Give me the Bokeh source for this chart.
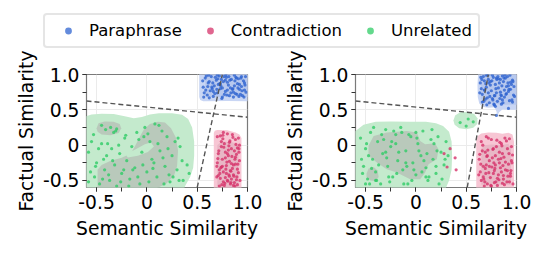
from bokeh.plotting import figure
from bokeh.models import Legend, LegendItem, FixedTicker, CustomJSTickFormatter
from bokeh.layouts import column, row
from bokeh.embed import file_html
from bokeh.resources import INLINE

# ---------------- data ----------------
classes = ["Paraphrase", "Contradiction", "Unrelated"]
class_colors = ["#2f64d0", "#d6336a", "#2fcc66"]
x_ticks = [-0.5, 0.0, 0.5, 1.0]
y_ticks = [-0.5, 0.0, 0.5, 1.0]
minor_ticks = [-0.5, -0.25, 0.0, 0.25, 0.5, 0.75, 1.0]
x_label = "Semantic Similarity"
y_label = "Factual Similarity"

# panel 1 points
para1_x = [0.56,0.58,0.60,0.61,0.63,0.64,0.66,0.67,0.69,0.70,0.72,0.73,0.75,0.76,0.78,0.79,0.81,0.82,0.84,0.85,0.87,0.88,0.90,0.91,0.93,0.94,0.96,0.97,0.98,0.57,0.62,0.65,0.68,0.71,0.74,0.77,0.80,0.83,0.86,0.89,0.92,0.95,0.59,0.66,0.73,0.80,0.87,0.94,0.62,0.70,0.78,0.86,0.92,0.97,0.75]
para1_y = [0.82,0.95,0.71,0.88,0.77,0.97,0.69,0.84,0.92,0.74,0.98,0.80,0.68,0.90,0.76,0.96,0.85,0.70,0.93,0.79,0.99,0.73,0.87,0.94,0.72,0.83,0.91,0.78,0.97,0.74,0.90,0.80,0.96,0.86,0.93,0.72,0.89,0.81,0.75,0.95,0.86,0.70,0.98,0.76,0.87,0.78,0.84,0.97,0.67,0.99,0.92,0.68,0.79,0.88,0.81]
para1b_x = [0.555,0.585,0.615,0.645,0.675,0.705,0.735,0.765,0.795,0.825,0.855,0.885,0.915,0.945,0.975,0.565,0.605,0.655,0.695,0.745,0.785,0.835,0.875,0.905,0.935,0.965,0.985,0.725,0.815,0.895]
para1b_y = [0.91,0.78,0.99,0.82,0.73,0.94,0.84,0.97,0.71,0.92,0.80,0.96,0.69,0.77,0.85,0.68,0.83,0.88,0.79,0.66,0.99,0.74,0.91,0.81,0.95,0.68,0.75,0.87,0.97,0.72]
contra1_x = [0.70,0.72,0.74,0.76,0.78,0.80,0.82,0.84,0.86,0.88,0.90,0.92,0.71,0.73,0.75,0.77,0.79,0.81,0.83,0.85,0.87,0.89,0.91,0.70,0.72,0.74,0.76,0.78,0.80,0.82,0.84,0.86,0.88,0.90,0.92,0.71,0.73,0.75,0.77,0.79,0.81,0.83,0.85,0.87,0.89,0.91,0.74,0.78,0.82,0.86,0.90,0.76,0.80,0.84,0.88]
contra1_y = [0.12,-0.35,0.05,-0.52,-0.18,0.16,-0.44,-0.05,-0.28,0.08,-0.56,-0.22,-0.12,-0.47,-0.30,0.02,-0.40,-0.15,-0.55,-0.33,-0.08,-0.49,0.10,-0.25,-0.58,-0.02,-0.38,-0.10,-0.50,0.04,-0.26,-0.42,-0.17,-0.34,0.00,-0.43,0.13,-0.20,-0.57,-0.29,-0.07,-0.36,0.15,-0.53,-0.13,-0.39,-0.31,-0.46,-0.23,-0.57,-0.04,0.18,-0.12,-0.48,-0.27]
contra1b_x = [0.695,0.715,0.735,0.755,0.775,0.795,0.815,0.835,0.855,0.875,0.895,0.915,0.925,0.705,0.745,0.785,0.825,0.865,0.905,0.725,0.765,0.805,0.845,0.885,0.695,0.755,0.815,0.875,0.915,0.835]
contra1b_y = [-0.45,-0.08,-0.32,0.09,-0.54,-0.24,-0.01,-0.37,0.11,-0.20,-0.45,-0.10,-0.50,-0.19,-0.56,-0.34,0.06,-0.44,-0.27,-0.40,-0.03,-0.51,-0.16,0.01,-0.30,0.14,-0.42,-0.58,-0.05,-0.53]
unrel1_x = [-0.58,-0.55,-0.52,-0.50,-0.47,-0.45,-0.42,-0.40,-0.37,-0.35,-0.32,-0.30,-0.27,-0.25,-0.22,-0.20,-0.17,-0.15,-0.12,-0.10,-0.07,-0.05,-0.02,0.00,0.03,0.05,0.08,0.10,0.13,0.15,0.18,0.20,0.23,0.25,0.28,0.30,0.33,0.35,0.40,-0.45,-0.41,-0.36,-0.33,-0.30,-0.56,-0.48,-0.38,-0.28,-0.18,-0.08,0.02,0.12,0.22,0.32,-0.53,-0.43,-0.23,-0.03,0.07,0.17]
unrel1_y = [-0.10,0.05,-0.45,-0.25,-0.55,0.02,-0.35,-0.15,-0.50,-0.05,-0.28,-0.58,-0.12,-0.40,0.10,-0.22,-0.48,-0.02,-0.32,0.18,-0.55,-0.10,0.25,-0.38,0.05,-0.20,0.30,-0.45,-0.08,0.20,-0.30,0.12,-0.52,-0.15,0.05,-0.35,-0.02,-0.22,-0.28,0.28,0.22,0.25,0.18,0.23,-0.38,-0.05,-0.42,0.00,-0.58,0.08,-0.52,0.28,-0.42,-0.50,0.15,-0.20,-0.35,0.12,-0.25,-0.55]
unrel1b_x = [-0.51,-0.44,-0.39,-0.34,-0.26,-0.21,-0.14,-0.09,-0.04,0.01,0.06,0.11,0.16,0.21,0.26,0.31,0.36,0.42,-0.58,-0.31]
unrel1b_y = [-0.30,-0.48,0.02,-0.22,-0.52,0.14,-0.35,-0.45,-0.28,0.16,-0.33,0.02,-0.18,-0.05,-0.45,0.10,-0.50,-0.40,-0.52,0.20]

# panel 2 points
para2_x = [0.64,0.66,0.67,0.69,0.70,0.72,0.73,0.75,0.76,0.78,0.79,0.81,0.82,0.84,0.85,0.87,0.88,0.90,0.91,0.93,0.94,0.96,0.97,0.65,0.68,0.71,0.74,0.77,0.80,0.83,0.86,0.89,0.92,0.95,0.98,0.66,0.70,0.74,0.78,0.82,0.86,0.90,0.94,0.68,0.76,0.84,0.92,0.72,0.80,0.88,0.96,0.79,0.85,0.80,0.92]
para2_y = [0.88,0.72,0.97,0.65,0.82,0.93,0.60,0.77,0.99,0.70,0.86,0.62,0.94,0.75,0.58,0.90,0.68,0.83,0.97,0.63,0.79,0.92,0.71,0.80,0.91,0.67,0.85,0.96,0.74,0.88,0.64,0.95,0.76,0.86,0.69,0.61,0.99,0.90,0.57,0.81,0.98,0.73,0.89,0.78,0.66,0.93,0.84,0.74,0.95,0.78,0.61,0.55,0.70,0.42,0.52]
para2b_x = [0.635,0.655,0.675,0.695,0.715,0.735,0.755,0.775,0.795,0.815,0.835,0.855,0.875,0.895,0.915,0.935,0.955,0.975,0.645,0.685,0.725,0.765,0.805,0.845,0.885,0.925,0.965,0.705,0.785,0.865]
para2b_y = [0.74,0.93,0.62,0.87,0.99,0.69,0.91,0.58,0.80,0.97,0.66,0.84,0.95,0.72,0.88,0.99,0.64,0.83,0.96,0.78,0.88,0.64,0.93,0.71,0.99,0.79,0.90,0.57,0.70,0.60]
contra2_x = [0.63,0.65,0.67,0.69,0.71,0.73,0.75,0.77,0.79,0.81,0.83,0.85,0.87,0.89,0.91,0.93,0.95,0.64,0.66,0.68,0.70,0.72,0.74,0.76,0.78,0.80,0.82,0.84,0.86,0.88,0.90,0.92,0.94,0.96,0.65,0.69,0.73,0.77,0.81,0.85,0.89,0.93,0.67,0.71,0.75,0.79,0.83,0.87,0.91,0.95,0.70,0.78,0.86,0.94,0.82,0.34,0.39,0.31,0.40,0.28]
contra2_y = [-0.20,0.05,-0.45,-0.10,-0.55,-0.30,0.08,-0.40,-0.15,-0.57,-0.25,0.02,-0.48,-0.35,-0.05,-0.52,-0.22,-0.38,-0.08,-0.58,-0.28,0.10,-0.46,-0.18,-0.53,-0.02,-0.42,-0.32,-0.12,-0.56,0.06,-0.27,-0.44,-0.14,-0.50,-0.33,-0.22,-0.05,-0.47,-0.38,-0.24,0.09,-0.30,-0.15,-0.58,-0.28,-0.10,-0.43,-0.36,-0.02,0.12,-0.36,-0.54,-0.40,-0.20,-0.05,-0.18,-0.31,-0.35,-0.12]
contra2b_x = [0.625,0.645,0.665,0.685,0.705,0.725,0.745,0.765,0.785,0.805,0.825,0.845,0.865,0.885,0.905,0.925,0.945,0.965,0.635,0.675,0.715,0.755,0.795,0.835,0.875,0.915,0.955,0.695,0.775,0.855]
contra2b_y = [-0.42,-0.27,0.00,-0.52,-0.16,-0.39,-0.57,-0.06,-0.33,0.07,-0.49,-0.19,-0.29,0.10,-0.52,-0.12,-0.36,-0.55,-0.13,-0.48,-0.07,-0.31,-0.52,0.04,-0.17,-0.44,-0.25,-0.40,-0.25,-0.01]
unrel2_x = [-0.55,-0.52,-0.50,-0.48,-0.45,-0.43,-0.40,-0.38,-0.35,-0.33,-0.30,-0.28,-0.25,-0.23,-0.20,-0.18,-0.15,-0.13,-0.10,-0.08,-0.05,-0.03,0.00,0.02,0.05,0.07,0.10,0.12,0.15,0.17,0.20,0.22,0.25,0.28,0.30,-0.53,-0.47,-0.42,-0.37,-0.32,-0.27,-0.22,-0.17,-0.12,-0.07,-0.02,0.03,0.08,0.13,0.18,0.23,-0.50,-0.40,-0.30,-0.20,-0.10,0.00,0.10,0.20,0.32,0.44,0.50,0.52,0.57]
unrel2_y = [0.10,-0.30,-0.05,-0.48,0.18,-0.20,-0.38,0.05,-0.55,-0.12,0.22,-0.30,-0.02,-0.45,0.15,-0.22,0.25,-0.35,-0.08,-0.55,0.12,-0.25,-0.42,0.02,-0.15,0.20,-0.32,-0.50,0.08,-0.20,-0.40,0.12,-0.10,-0.28,0.05,-0.40,-0.15,0.25,-0.28,0.08,-0.45,0.20,-0.10,-0.55,0.15,-0.35,-0.08,-0.22,-0.45,0.02,-0.55,-0.55,-0.50,-0.10,0.02,-0.25,0.18,-0.45,-0.30,-0.15,0.32,0.27,0.37,0.33]
unrel2b_x = [-0.54,-0.49,-0.44,-0.39,-0.34,-0.29,-0.24,-0.19,-0.14,-0.09,-0.04,0.01,0.06,0.11,0.16,0.21,0.26,0.29,-0.46,-0.26]
unrel2b_y = [-0.20,0.02,-0.33,-0.50,0.15,-0.18,0.05,-0.40,0.18,-0.30,-0.50,0.10,-0.38,-0.12,0.22,-0.08,-0.48,-0.20,-0.55,-0.52]

# density-region outlines (data units), panel 1
kde1_para_outer_x = [0.56,0.53,0.52,0.52,1.05,1.05,1.00,0.80]
kde1_para_outer_y = [0.62,0.64,0.68,1.05,1.05,0.63,0.62,0.625]
kde1_para_inner_x = [0.60,0.58,0.58,1.05,1.05,0.80]
kde1_para_inner_y = [0.68,0.70,1.05,1.05,0.68,0.68]
kde1_contra_outer_x = [0.665,0.665,0.675,0.70,0.80,0.88,0.92,0.94,0.94]
kde1_contra_outer_y = [-0.70,0.17,0.205,0.215,0.21,0.18,0.15,0.10,-0.70]
kde1_contra_inner_x = [0.70,0.70,0.74,0.85,0.91,0.91]
kde1_contra_inner_y = [-0.70,0.00,0.05,0.04,0.00,-0.70]
kde1_unrel_outer_x = [-0.70,-0.70,-0.62,-0.55,-0.45,-0.33,-0.22,-0.13,-0.05,0.03,0.12,0.25,0.35,0.41,0.45,0.47,0.47,0.46,0.43,0.38,0.35]
kde1_unrel_outer_y = [-0.70,0.38,0.40,0.435,0.445,0.44,0.41,0.38,0.40,0.435,0.45,0.45,0.43,0.37,0.25,0.05,-0.15,-0.32,-0.45,-0.58,-0.70]
kde1_unrel_inner_a_x = [-0.50,-0.48,-0.42,-0.33,-0.27,-0.255,-0.28,-0.36,-0.45,-0.49]
kde1_unrel_inner_a_y = [0.24,0.31,0.335,0.33,0.30,0.24,0.17,0.14,0.15,0.19]
kde1_unrel_inner_b_x = [-0.49,-0.49,-0.45,-0.36,-0.25,-0.16,-0.12,-0.07,-0.03,0.03,0.11,0.18,0.24,0.29,0.31,0.30,0.27,0.19,0.08,0.05]
kde1_unrel_inner_b_y = [-0.70,-0.35,-0.28,-0.22,-0.18,-0.12,-0.02,0.12,0.22,0.30,0.33,0.32,0.24,0.10,-0.08,-0.30,-0.43,-0.55,-0.62,-0.70]
kde1_unrel_hole_x = [-0.21,-0.12,-0.02,0.04,0.07,0.01,-0.09,-0.19]
kde1_unrel_hole_y = [-0.13,-0.067,0.013,0.037,-0.02,-0.096,-0.152,-0.176]

# density-region outlines (data units), panel 2
kde2_para_outer_x = [0.62,0.612,0.615,0.63,0.66,0.72,0.78,0.80,0.81,0.83,0.86,0.95,1.05,1.05]
kde2_para_outer_y = [1.05,0.85,0.68,0.59,0.545,0.53,0.535,0.48,0.42,0.47,0.505,0.50,0.50,1.05]
kde2_para_inner_x = [0.645,0.645,0.68,0.78,0.88,1.05,1.05]
kde2_para_inner_y = [1.05,0.66,0.595,0.585,0.57,0.57,1.05]
kde2_contra_outer_x = [0.60,0.60,0.615,0.65,0.72,0.80,0.86,0.92,0.96,0.975,0.975]
kde2_contra_outer_y = [-0.70,0.05,0.13,0.165,0.18,0.175,0.16,0.175,0.15,0.05,-0.70]
kde2_contra_inner_x = [0.65,0.65,0.68,0.75,0.85,0.92,0.945,0.945]
kde2_contra_inner_y = [-0.56,-0.05,0.0,0.01,0.0,0.02,-0.05,-0.56]
kde2_unrel_outer_x = [-0.70,-0.70,-0.60,-0.52,-0.40,-0.25,-0.05,0.10,0.20,0.27,0.33,0.355,0.36,0.355,0.33,0.30,0.28]
kde2_unrel_outer_y = [-0.70,0.15,0.20,0.29,0.33,0.335,0.33,0.33,0.31,0.27,0.19,0.05,-0.15,-0.35,-0.50,-0.60,-0.70]
kde2_unrel_blob_x = [0.373,0.39,0.44,0.52,0.58,0.612,0.61,0.57,0.50,0.43,0.385]
kde2_unrel_blob_y = [0.35,0.42,0.465,0.47,0.44,0.38,0.30,0.245,0.225,0.24,0.29]
kde2_unrel_inner_a_x = [-0.471,-0.42,-0.289,-0.09,0.01,0.043,0.092,0.19,0.225,0.208,0.126,0.092,0.043,-0.057,-0.19,-0.289,-0.388,-0.471]
kde2_unrel_inner_a_y = [-0.01,0.13,0.18,0.20,0.18,0.06,0.013,0.027,-0.058,-0.20,-0.27,-0.388,-0.483,-0.483,-0.388,-0.34,-0.247,-0.152]
kde2_unrel_inner_b_x = [-0.49,-0.47,-0.42,-0.38,-0.37,-0.40,-0.45,-0.49]
kde2_unrel_inner_b_y = [-0.40,-0.33,-0.31,-0.36,-0.45,-0.51,-0.50,-0.46]

# decision boundaries
bound_a_x = [-0.6, 1.0]
bound_a_y = [0.625, 0.395]
bound1_b_x = [0.50, 0.75]
bound1_b_y = [-0.6, 1.0]
bound2_b_x = [0.51, 0.72]
bound2_b_y = [-0.6, 1.0]

# ---------------- styling ----------------
FONT = "DejaVu Sans"
FS = "18.7px"
C_PARA_OUT, C_PARA_IN = "#c9d6f4", "#b7c8ee"
C_CON_OUT, C_CON_IN = "#f7c6d4", "#e8b6c5"
C_UN_OUT, C_UN_IN = "#c4eacd", "#b9c9bb"

fmt_code = "return tick == 0 ? '0' : tick.toFixed(1);"


def make_panel(width, border_right, polys, points, bounds):
    p = figure(width=width, height=198, x_range=(-0.6, 1.0), y_range=(-0.6, 1.0),
               min_border_left=86, min_border_right=border_right,
               min_border_top=24, min_border_bottom=61,
               output_backend="svg", toolbar_location=None)
    p.background_fill_color = "white"
    p.outline_line_color = "#7a7a7a"
    p.outline_line_width = 1.2
    for xs, ys, col in polys:
        p.patch(xs, ys, fill_color=col, line_color=None)
    for (xs, ys), col in zip(points, class_colors):
        pts = list(zip(xs, ys))
        p.scatter([a for a, _ in pts], [b for _, b in pts], size=3.2,
                  fill_color=col, line_color=None, fill_alpha=0.8)
    for xs, ys in bounds:
        p.line(xs, ys, line_color="#555555", line_width=1.4, line_dash="5 3")
    p.xaxis.ticker = FixedTicker(ticks=x_ticks, minor_ticks=minor_ticks)
    p.yaxis.ticker = FixedTicker(ticks=y_ticks, minor_ticks=minor_ticks)
    p.xaxis.formatter = CustomJSTickFormatter(code=fmt_code)
    p.yaxis.formatter = CustomJSTickFormatter(code=fmt_code)
    for ax in (p.xaxis[0], p.yaxis[0]):
        ax.axis_line_color = None
        ax.major_tick_in = 0
        ax.major_tick_out = 4
        ax.minor_tick_in = 0
        ax.minor_tick_out = 4
        ax.major_tick_line_color = "#333333"
        ax.minor_tick_line_color = "#333333"
        ax.major_label_text_font = FONT
        ax.major_label_text_font_size = FS
        ax.major_label_text_color = "black"
        ax.axis_label_text_font = FONT
        ax.axis_label_text_font_size = FS
        ax.axis_label_text_font_style = "normal"
        ax.axis_label_text_color = "black"
    p.xaxis.axis_label = x_label
    p.yaxis.axis_label = y_label
    p.xaxis.major_label_standoff = 3
    p.yaxis.major_label_standoff = 3
    p.xaxis.axis_label_standoff = 6
    p.yaxis.axis_label_standoff = 3
    p.grid.grid_line_color = "#ebebeb"
    p.grid.grid_line_width = 1
    return p


p1 = make_panel(269, 22,
                [(kde1_unrel_outer_x, kde1_unrel_outer_y, C_UN_OUT),
                 (kde1_unrel_inner_a_x, kde1_unrel_inner_a_y, C_UN_IN),
                 (kde1_unrel_inner_b_x, kde1_unrel_inner_b_y, C_UN_IN),
                 (kde1_unrel_hole_x, kde1_unrel_hole_y, C_UN_OUT),
                 (kde1_para_outer_x, kde1_para_outer_y, C_PARA_OUT),
                 (kde1_para_inner_x, kde1_para_inner_y, C_PARA_IN),
                 (kde1_contra_outer_x, kde1_contra_outer_y, C_CON_OUT),
                 (kde1_contra_inner_x, kde1_contra_inner_y, C_CON_IN)],
                [(para1_x + para1b_x, para1_y + para1b_y),
                 (contra1_x + contra1b_x, contra1_y + contra1b_y),
                 (unrel1_x + unrel1b_x, unrel1_y + unrel1b_y)],
                [(bound_a_x, bound_a_y), (bound1_b_x, bound1_b_y)])

p2 = make_panel(278, 31,
                [(kde2_unrel_outer_x, kde2_unrel_outer_y, C_UN_OUT),
                 (kde2_unrel_blob_x, kde2_unrel_blob_y, C_UN_OUT),
                 (kde2_unrel_inner_a_x, kde2_unrel_inner_a_y, C_UN_IN),
                 (kde2_unrel_inner_b_x, kde2_unrel_inner_b_y, C_UN_IN),
                 (kde2_para_outer_x, kde2_para_outer_y, C_PARA_OUT),
                 (kde2_para_inner_x, kde2_para_inner_y, C_PARA_IN),
                 (kde2_contra_outer_x, kde2_contra_outer_y, C_CON_OUT),
                 (kde2_contra_inner_x, kde2_contra_inner_y, C_CON_IN)],
                [(para2_x + para2b_x, para2_y + para2b_y),
                 (contra2_x + contra2b_x, contra2_y + contra2b_y),
                 (unrel2_x + unrel2b_x, unrel2_y + unrel2b_y)],
                [(bound_a_x, bound_a_y), (bound2_b_x, bound2_b_y)])

# legend strip
lg = figure(width=547, height=50, x_range=(0, 1), y_range=(0, 1),
            x_axis_type=None, y_axis_type=None, min_border=0,
            output_backend="svg", toolbar_location=None)
lg.outline_line_color = None
lg.grid.visible = False
items = []
for name, col in zip(classes, class_colors):
    r = lg.scatter(x=[0.5], y=[0.5], size=6, fill_color=col, line_color=None,
                   fill_alpha=0.75, visible=False)
    items.append(LegendItem(label=name, renderers=[r]))
legend = Legend(items=items, orientation="horizontal", location=(43, 2),
                glyph_width=34, glyph_height=17, label_standoff=4, spacing=11,
                padding=6, margin=0,
                label_text_font=FONT, label_text_font_size="16.5px",
                label_text_color="black",
                border_line_color="#cccccc", border_line_width=2,
                background_fill_color="white")
try:
    legend.border_radius = 4
except Exception:
    pass
lg.add_layout(legend, "center")

layout = column(lg, row(p1, p2))
open("out.html", "w").write(file_html(layout, INLINE))
